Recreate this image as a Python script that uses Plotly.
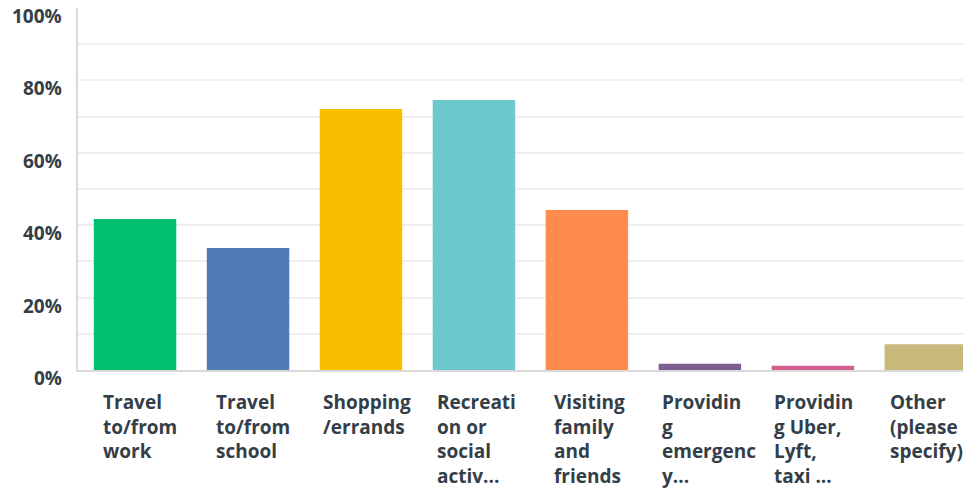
import plotly.graph_objects as go

categories = ["Travel to/from work", "Travel to/from school", "Shopping/errands",
              "Recreation or social activ...", "Visiting family and friends",
              "Providing emergency...", "Providing Uber, Lyft, taxi ...", "Other (please specify)"]
tick_labels = ["Travel<br>to/from<br>work", "Travel<br>to/from<br>school", "Shopping<br>/errands",
               "Recreati<br>on or<br>social<br>activ...", "Visiting<br>family<br>and<br>friends",
               "Providin<br>g<br>emergenc<br>y...", "Providin<br>g Uber,<br>Lyft,<br>taxi ...",
               "Other<br>(please<br>specify)"]
values = [41.7, 33.7, 72.1, 74.6, 44.2, 1.7, 1.2, 7.1]
colors = ["#00bf6f", "#507cb6", "#f9be00", "#6bc8cd", "#ff8b4f", "#7d5e90", "#d25f90", "#c8b87b"]
y_ticks = [0, 20, 40, 60, 80, 100]
y_tick_text = ["0%", "20%", "40%", "60%", "80%", "100%"]
grid_vals = [10, 20, 30, 40, 50, 60, 70, 80, 90]

# horizontal offset (px) of each wrapped label's left edge from its bar centre
label_offsets = [-34, -34, -40, -39, -35, -40, -41, -38]

TXT = "#333e48"
FONT = "Open Sans"

fig = go.Figure(go.Bar(
    x=list(range(len(categories))), y=values, marker=dict(color=colors, line=dict(width=0)),
    width=0.73, hovertext=categories,
))

for i, lab in enumerate(tick_labels):
    fig.add_annotation(x=i, y=0, xref="x", yref="paper", text=lab, showarrow=False,
                       xanchor="left", yanchor="top", align="left", yshift=-17,
                       xshift=label_offsets[i],
                       font=dict(family=FONT, size=19, color=TXT, weight="bold"))

for v, t in zip(y_ticks, y_tick_text):
    fig.add_annotation(x=0, y=v, xref="paper", yref="y", text=t, showarrow=False,
                       xanchor="right", yanchor="middle", xshift=-14, yshift=-8,
                       font=dict(family=FONT, size=19, color=TXT, weight="bold"))

fig.update_layout(
    width=963, height=483,
    margin=dict(l=70, r=0, t=0, b=121, autoexpand=False),
    paper_bgcolor="white", plot_bgcolor="white",
    showlegend=False,
    xaxis=dict(range=[-0.505, 7.40], showticklabels=False, showgrid=False, zeroline=False,
               showline=True, linecolor="#d9d9d9", linewidth=2, ticks="", automargin=False),
    yaxis=dict(range=[0, 100], showticklabels=False, showgrid=False, automargin=False,
               zeroline=False, showline=True, linecolor="#d9d9d9", linewidth=2, ticks="",
               minor=dict(tickvals=grid_vals, showgrid=True, gridcolor="#efefef", gridwidth=2, ticks="")),
)

fig.write_html("out.html")
